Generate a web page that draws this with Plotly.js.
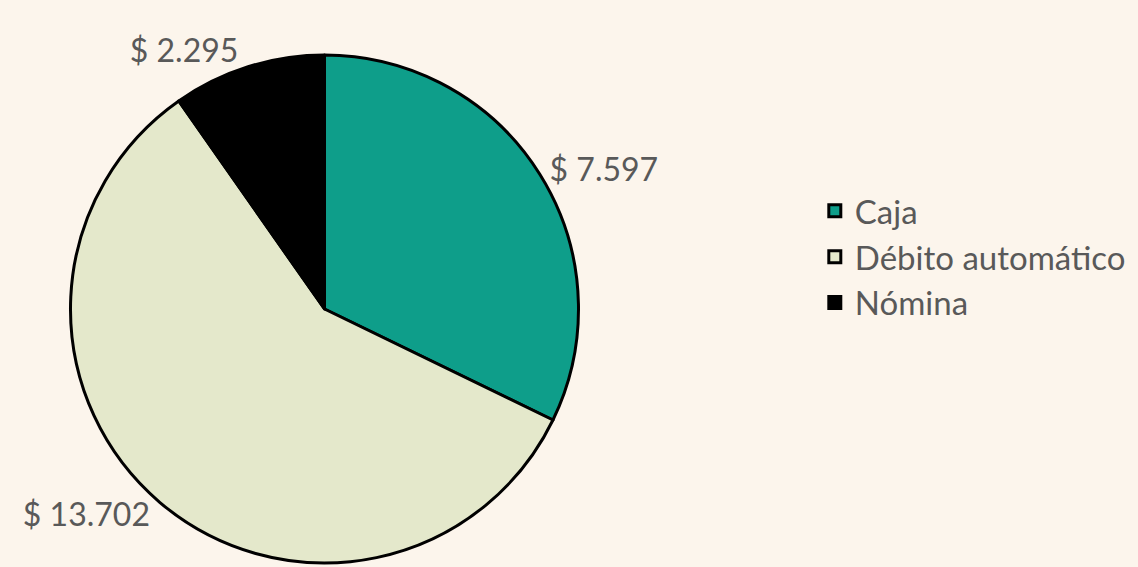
<!DOCTYPE html>
<html>
<head>
<meta charset="utf-8">
<script src="https://cdn.plot.ly/plotly-3.0.1.min.js"></script>
<style>html,body{margin:0;padding:0;background:#FCF5EC;}</style>
</head>
<body>
<div id="chart" style="width:1138px;height:567px;"></div>
<script>
const categories = ["Caja", "Débito automático", "Nómina"];
const values = [7597, 13702, 2295];
const colors = ["#0E9E8A", "#E4E8CB", "#000000"];

const trace = {
  type: "pie",
  labels: categories,
  values: values,
  sort: false,
  direction: "clockwise",
  rotation: 0,
  marker: {colors: colors, line: {color: "#000000", width: 3}},
  texttemplate: "$ %{value:,.0f}",
  textposition: "outside",
  textfont: {family: "Lato, 'Open Sans', sans-serif", size: 32, color: "#595959"},
  hoverinfo: "label+value",
  domain: {x: [70/1138, 579/1138], y: [4/567, 512/567]}
};

const layout = {
  width: 1138,
  height: 567,
  margin: {l: 0, r: 0, t: 0, b: 0},
  paper_bgcolor: "#FCF5EC",
  plot_bgcolor: "#FCF5EC",
  separators: ",.",
  showlegend: true,
  legend: {
    x: 0.716, y: 0.547, xanchor: "left", yanchor: "middle",
    font: {family: "Lato, 'Open Sans', sans-serif", size: 33, color: "#595959"},
    bgcolor: "rgba(0,0,0,0)"
  }
};

Plotly.newPlot("chart", [trace], layout, {displayModeBar: false, staticPlot: true});
</script>
</body>
</html>
